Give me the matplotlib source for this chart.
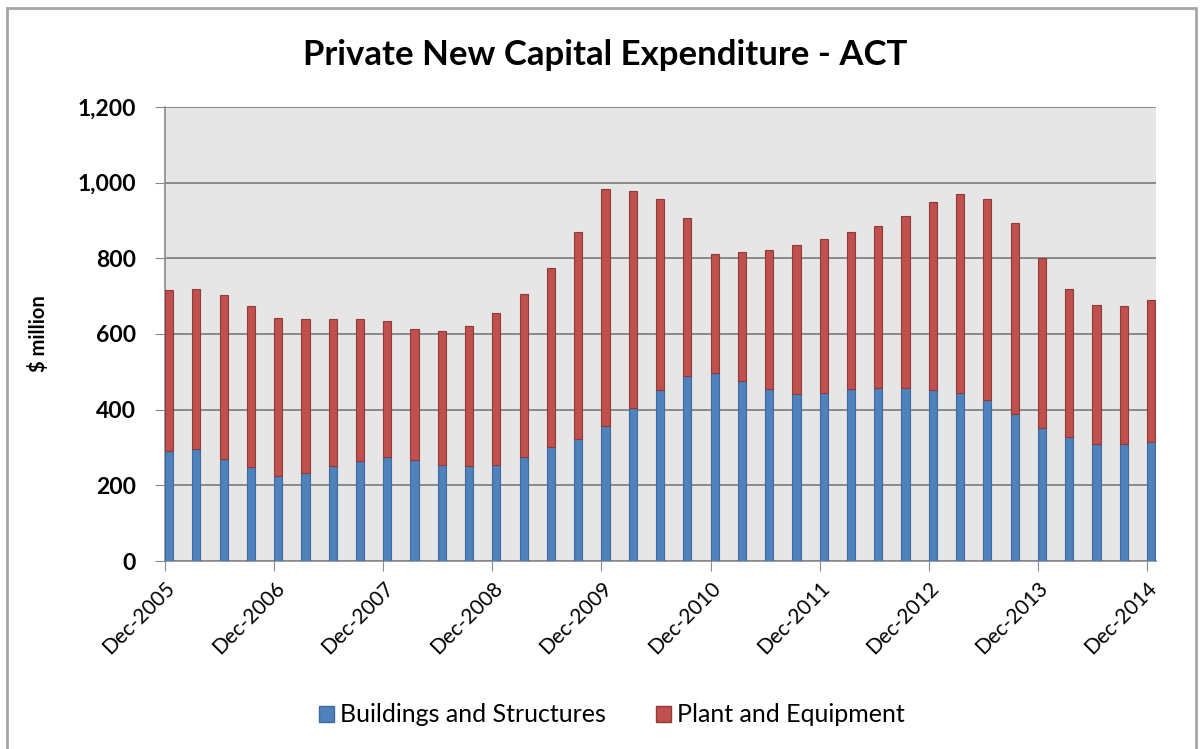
import matplotlib.pyplot as plt
import matplotlib.patches as mpatches
from matplotlib.ticker import FuncFormatter, MultipleLocator
import pandas as pd

# quarterly series, Dec-2005 .. Dec-2014 ($ million)
quarters = pd.date_range("2005-12-01", "2014-12-01", freq="3MS")
buildings = [292, 296, 270, 248, 225, 233, 250, 263, 276, 267, 255, 250,
             254, 274, 301, 322, 356, 404, 451, 489, 497, 476, 454, 442,
             444, 454, 457, 457, 453, 444, 425, 389, 351, 327, 308, 308, 314]
plant = [423, 424, 432, 425, 418, 406, 389, 376, 359, 346, 354, 372,
         401, 432, 473, 547, 626, 575, 507, 417, 315, 342, 367, 392,
         407, 415, 428, 455, 497, 527, 533, 505, 449, 393, 369, 365, 376]
tick_dates = pd.date_range("2005-12-01", "2014-12-01", freq="12MS")

BLUE = "#4F81BD"
RED = "#C0504D"
FONT = ["Lato", "DejaVu Sans"]

plt.rcParams["font.family"] = FONT


def month_index(dates):
    """Months elapsed since the first quarter, used as the bar positions"""
    return [(d.year - quarters[0].year) * 12 + d.month - quarters[0].month for d in dates]


x = month_index(quarters)

fig = plt.figure(figsize=(12.01, 7.49), dpi=100)
ax = fig.add_axes([165 / 1201, 188 / 749, 991 / 1201, 454 / 749])
ax.set_facecolor("#E6E6E6")

ax.bar(x, buildings, width=0.9, align="edge", color=BLUE,
       edgecolor="#3E6A9E", linewidth=0.8, label="Buildings and Structures", zorder=3)
ax.bar(x, plant, width=0.9, bottom=buildings, align="edge", color=RED,
       edgecolor="#8E3A38", linewidth=0.8, label="Plant and Equipment", zorder=3)

ax.set_xlim(0, 109)
ax.set_ylim(0, 1200)
ax.yaxis.set_major_locator(MultipleLocator(200))
ax.yaxis.set_major_formatter(FuncFormatter(lambda v, p: f"{int(v):,}"))
ax.grid(axis="y", color="#8A8A8A", linewidth=1.4, zorder=1)

ax.set_xticks(month_index(tick_dates))
ax.set_xticklabels([d.strftime("%b-%Y") for d in tick_dates], rotation=45,
                   ha="right", rotation_mode="anchor", fontsize=15)
ax.tick_params(axis="x", length=7, color="#8A8A8A", pad=5)
ax.tick_params(axis="y", length=7, color="#8A8A8A", labelsize=16.5, pad=14)
for lbl in ax.get_yticklabels():
    lbl.set_fontweight("bold")

for side in ["top", "right"]:
    ax.spines[side].set_visible(False)
for side in ["left", "bottom"]:
    ax.spines[side].set_color("#8A8A8A")
    ax.spines[side].set_linewidth(1.2)

ax.set_ylabel("$ million", fontsize=14.5, fontweight="bold", labelpad=20)

fig.text(605 / 1201, 1 - 55 / 749, "Private New Capital Expenditure - ACT",
         ha="center", va="center", fontsize=25, fontweight="bold")

handles = [mpatches.Patch(facecolor=BLUE, edgecolor="#3E6A9E"),
           mpatches.Patch(facecolor=RED, edgecolor="#8E3A38")]
fig.legend(handles, ["Buildings and Structures", "Plant and Equipment"],
           loc="center", bbox_to_anchor=(612 / 1201, 1 - 715 / 749), ncol=2,
           frameon=False, fontsize=18, handlelength=0.6, handleheight=0.6,
           handletextpad=0.25, columnspacing=2.0)

# outer chart border
fig.add_artist(mpatches.Rectangle((7 / 1201, -0.05), 1189 / 1201, 1.05 - 8 / 749,
                                  transform=fig.transFigure, fill=False,
                                  edgecolor="#A6A6A6", linewidth=2, clip_on=False))

fig.savefig("out.png", dpi=100)
